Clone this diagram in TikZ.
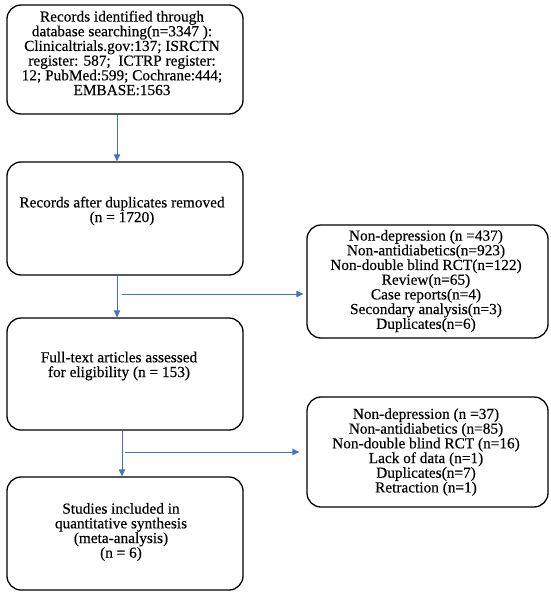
\documentclass[tikz,border=0pt]{standalone}
\usepackage{fontspec}
\setmainfont{Liberation Serif}[FakeBold=0.35]
\usetikzlibrary{arrows.meta}
\definecolor{arrblue}{HTML}{4472C4}
\tikzset{
  box/.style={draw=black, line width=1.3pt, rounded corners=14pt, inner sep=0pt},
  txt/.style={align=center, inner sep=0pt, font=\fontsize{15.3}{14.7}\selectfont},
  arr/.style={draw=arrblue, line width=1pt, -{Triangle[length=7pt,width=6.5pt]}},
}
\begin{document}
\begin{tikzpicture}[x=1pt,y=-1pt]
\useasboundingbox (0,0) rectangle (550,597);
% boxes
\node[box, minimum width=236pt, minimum height=109pt] (b1) at (125,59.5) {};
\node[box, minimum width=236pt, minimum height=113pt] (b2) at (125,218.5) {};
\node[box, minimum width=236pt, minimum height=112pt] (b4) at (125,374) {};
\node[box, minimum width=236pt, minimum height=113pt] (b6) at (125,533.5) {};
\node[box, minimum width=241pt, minimum height=113pt] (b3) at (427.5,281.5) {};
\node[box, minimum width=241pt, minimum height=110pt] (b5) at (427.5,452) {};
% texts
\node[txt] (t1) at (122,53) {Records identified through\\database searching(n=3347 ):\\Clinicaltrials.gov:137; ISRCTN\\register: 587;\ \ ICTRP register:\\12; PubMed:599; Cochrane:444;\\EMBASE:1563};
\node[txt] (t2) at (122,211) {Records after duplicates removed\\(n = 1720)};
\node[txt] (t4) at (119,366) {Full-text articles assessed\\for eligibility (n = 153)};
\node[txt] (t6) at (121,532) {Studies included in\\quantitative synthesis\\(meta-analysis)\\(n = 6)};
\node[txt] (t3) at (426,281) {Non-depression (n =437)\\Non-antidiabetics(n=923)\\Non-double blind RCT(n=122)\\Review(n=65)\\Case reports(n=4)\\Secondary analysis(n=3)\\Duplicates(n=6)};
\node[txt] (t5) at (426,452) {Non-depression (n =37)\\Non-antidiabetics (n=85)\\Non-double blind RCT (n=16)\\Lack of data (n=1)\\Duplicates(n=7)\\Retraction (n=1)};
% connectors
\draw[arr] ([xshift=-8pt]b1.south) -- ([xshift=-8pt]b2.north);
\draw[arr] ([xshift=-8pt]b2.south) -- ([xshift=-8pt]b4.north);
\draw[arr] ([xshift=-3pt]b4.south) -- ([xshift=-3pt]b6.north);
\coordinate (j1) at (122,294);
\coordinate (j2) at (125,452);
\draw[arr, shorten >=3pt] (j1) -- (j1 -| b3.west);
\draw[arr, shorten >=7pt] (j2) -- (j2 -| b5.west);
\end{tikzpicture}
\end{document}
